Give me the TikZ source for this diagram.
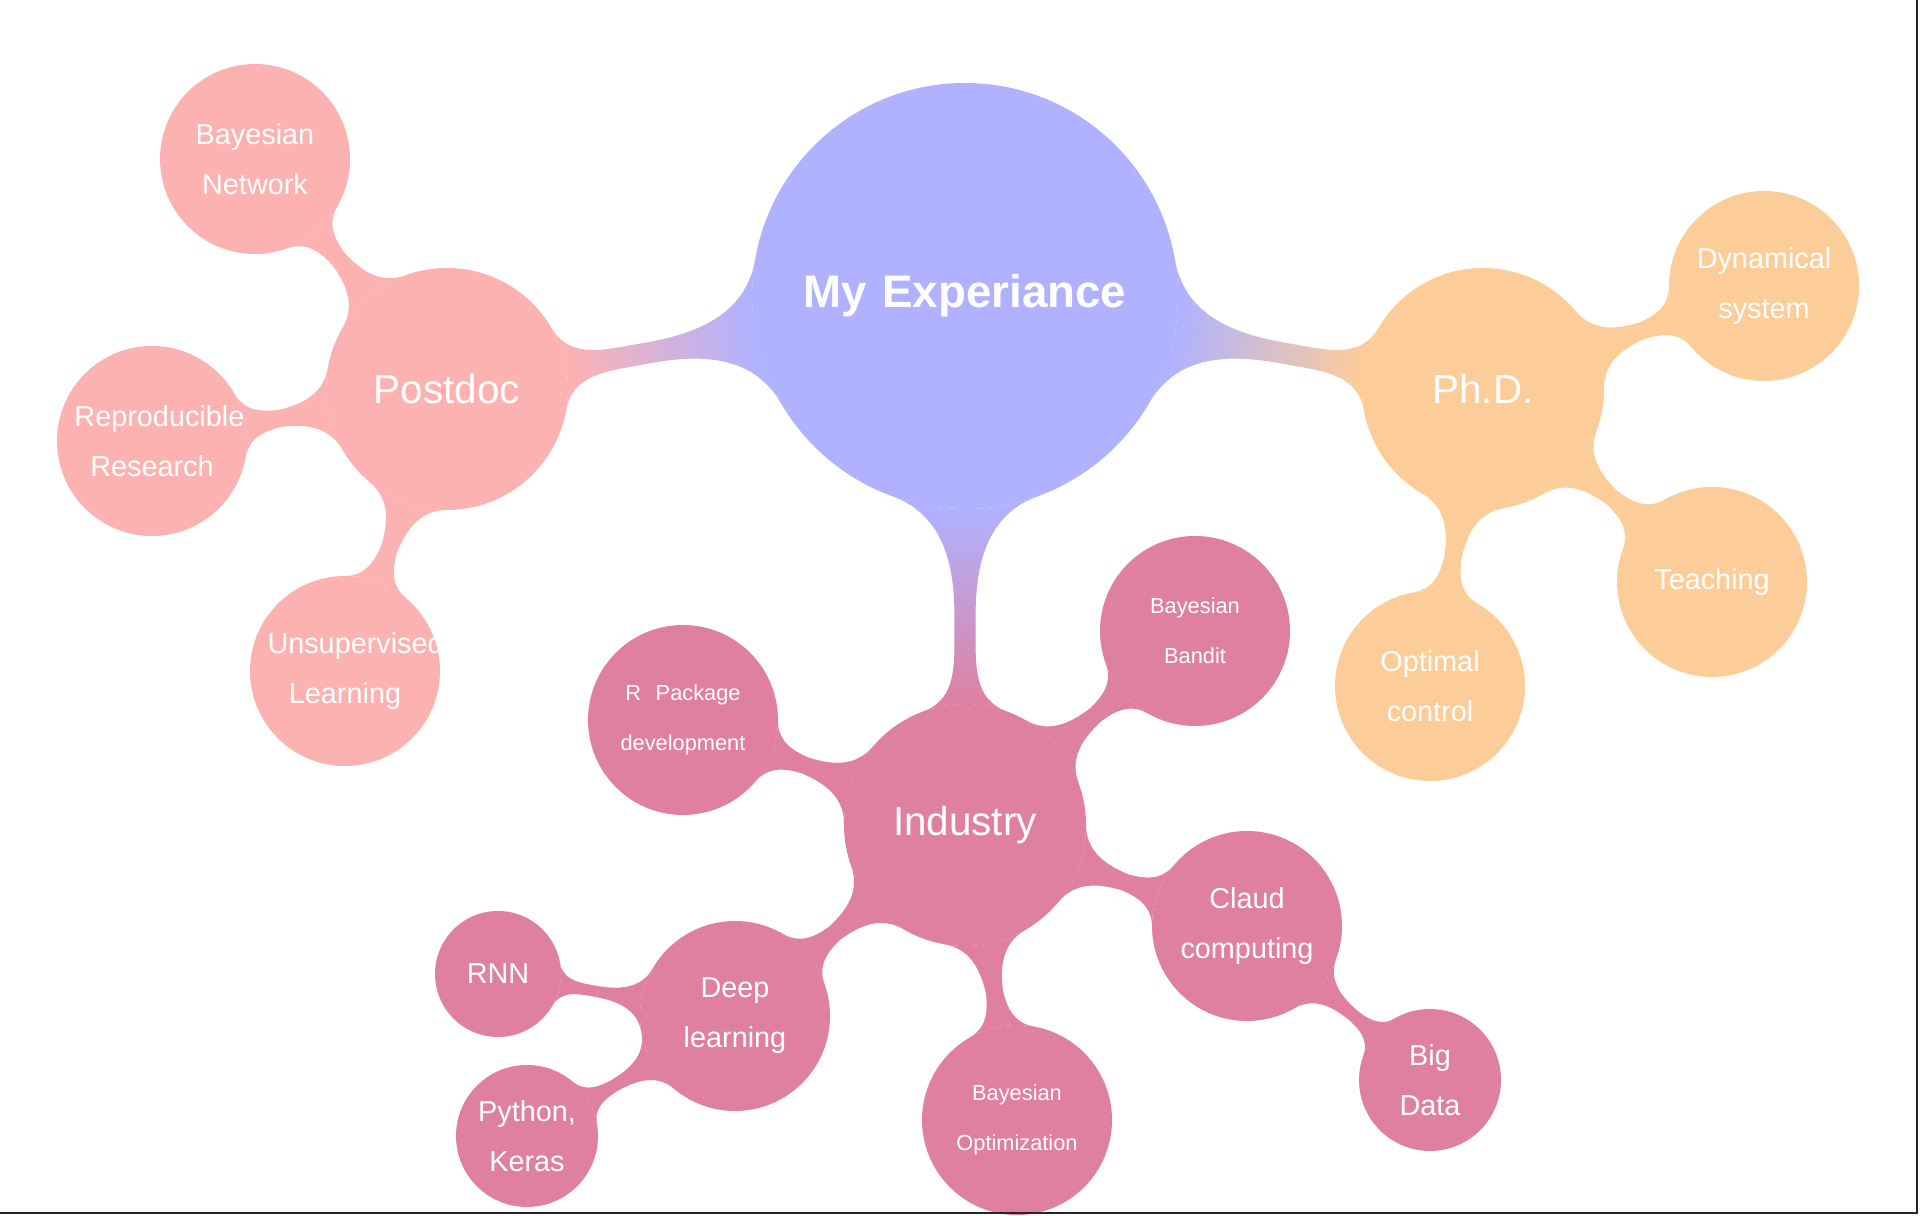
\documentclass[tikz,border=0pt]{standalone}
\usepackage{fontspec}
\setmainfont{Liberation Sans}
\usetikzlibrary{mindmap}
\definecolor{expblue}{RGB}{176,178,255}
\definecolor{postpink}{RGB}{253,178,178}
\definecolor{phdorange}{RGB}{253,205,153}
\definecolor{indrose}{RGB}{223,128,160}
\tikzset{
  topic/.style={concept, draw=none, text=white, align=center, inner sep=0pt},
  root/.style={topic, minimum size=4.26cm, text width=4cm,
    font=\bfseries\fontsize{13}{16}\selectfont},
  branch/.style={topic, minimum size=2.42cm, text width=2.2cm,
    font=\fontsize{11.5}{14}\selectfont},
  leaf/.style={topic, minimum size=1.9cm, text width=1.55cm,
    font=\fontsize{8.2}{14.2}\selectfont},
  smallleaf/.style={leaf, text width=1.3cm, font=\fontsize{6.2}{14.2}\selectfont},
  twig/.style={leaf, text width=1.05cm}
}
\begin{document}
\begin{tikzpicture}[mindmap]
\useasboundingbox (0,0) rectangle (19.2,12.16);
\node[root, concept color=expblue] (exp) at (9.65,9.20) {My Experiance};

\node[branch, concept color=postpink] (postdoc) at (4.47,8.27) {Postdoc};
\node[leaf, concept color=postpink] (bnet) at (2.55,10.57) {Bayesian Network};
\node[leaf, concept color=postpink] (repro) at (1.52,7.75) {Reproducible Research};
\node[leaf, concept color=postpink] (unsup) at (3.45,5.45) {Unsupervised Learning};

\node[branch, concept color=phdorange] (phd) at (14.83,8.27) {Ph.D.};
\node[leaf, concept color=phdorange] (dyn) at (17.64,9.30) {Dynamical system};
\node[leaf, concept color=phdorange] (teach) at (17.12,6.34) {Teaching};
\node[leaf, concept color=phdorange] (optc) at (14.30,5.30) {Optimal control};

\node[branch, concept color=indrose] (industry) at (9.65,3.91) {Industry};
\node[smallleaf, concept color=indrose] (bandit) at (11.95,5.85) {Bayesian Bandit};
\node[smallleaf, concept color=indrose] (rpack) at (6.83,4.96) {R~~Package development};
\node[leaf, concept color=indrose] (claud) at (12.47,2.90) {Claud computing};
\node[smallleaf, concept color=indrose] (bopt) at (10.17,0.96) {Bayesian Optimization};
\node[leaf, concept color=indrose] (deep) at (7.35,2.00) {Deep learning};
\node[twig, concept color=indrose, minimum size=1.26cm] (rnn) at (4.98,2.42) {RNN};
\node[twig, concept color=indrose, minimum size=1.42cm] (python) at (5.27,0.80) {Python, Keras};
\node[twig, concept color=indrose, minimum size=1.42cm] (bigdata) at (14.30,1.36) {Big Data};

\path (exp) to[circle connection bar switch color=from (expblue) to (postpink)] (postdoc);
\path (exp) to[circle connection bar switch color=from (expblue) to (phdorange)] (phd);
\path (exp) to[circle connection bar switch color=from (expblue) to (indrose)] (industry);
\foreach \kid in {bnet,repro,unsup}
  \path[concept color=postpink] (postdoc) to[circle connection bar] (\kid);
\foreach \kid in {dyn,teach,optc}
  \path[concept color=phdorange] (phd) to[circle connection bar] (\kid);
\foreach \kid in {bandit,rpack,claud,bopt,deep}
  \path[concept color=indrose] (industry) to[circle connection bar] (\kid);
\foreach \kid in {rnn,python}
  \path[concept color=indrose] (deep) to[circle connection bar] (\kid);
\path[concept color=indrose] (claud) to[circle connection bar] (bigdata);

\draw[line width=0.25mm, black!85] (19.17,12.16) -- (19.17,0.03) -- (0,0.03);
\end{tikzpicture}
\end{document}
